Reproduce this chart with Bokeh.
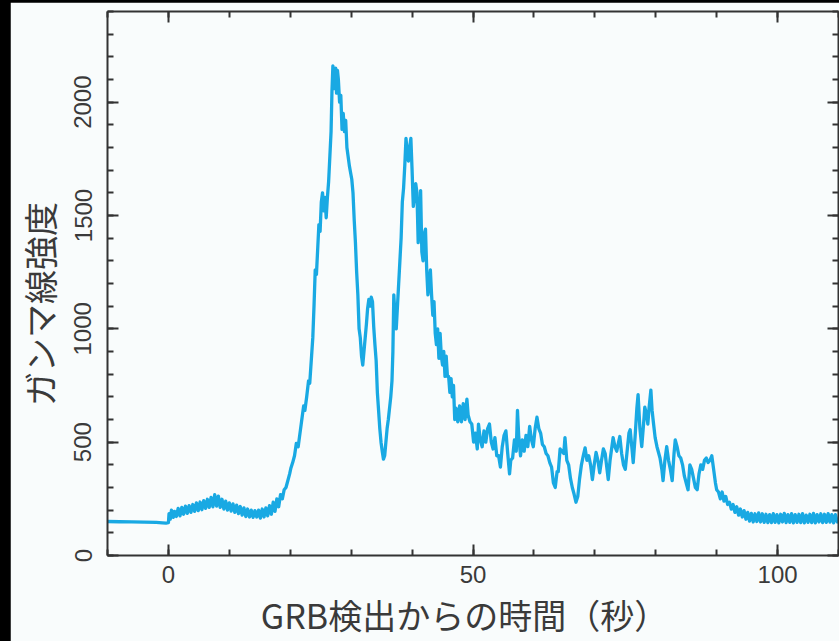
from bokeh.plotting import figure
from bokeh.models import LinearAxis, SingleIntervalTicker, Range1d, CustomJSTickFormatter
from bokeh.layouts import column
from bokeh.embed import file_html
from bokeh.resources import INLINE

# time since GRB trigger (s)
time_s = [
    -10.0, -8.0, -6.0, -4.0, -2.0, -1.0, -0.4, 0.0,
    0.1, 0.3, 0.5, 0.8, 1.0, 1.3, 1.6, 1.9, 2.2, 2.5, 2.8, 3.1, 3.4, 3.7, 4.0, 4.3, 4.6, 4.9,
    5.2, 5.5, 5.8, 6.1, 6.4, 6.7, 7.0, 7.3, 7.6, 7.9, 8.2, 8.5, 8.8, 9.1, 9.4, 9.7, 10.0,
    10.3, 10.6, 10.9, 11.2, 11.5, 11.8, 12.1, 12.4, 12.7, 13.0, 13.3, 13.6, 13.9, 14.2, 14.5,
    14.8, 15.1, 15.4, 15.7, 16.0, 16.3, 16.6, 16.9, 17.2, 17.5, 17.8, 18.1, 18.4, 18.7, 19.0,
    19.3, 19.6, 19.9, 20.1,
    20.4, 20.7, 21.0, 21.3, 21.6, 21.9, 22.2, 22.4, 22.7, 23.0, 23.2, 23.5, 23.7, 23.9, 24.1,
    24.3, 24.5, 24.7, 24.9, 25.1, 25.3, 25.5, 25.7, 25.9, 26.1, 26.3, 26.5, 26.7, 26.85, 27.0,
    27.15, 27.3, 27.45, 27.6, 27.75, 27.9, 28.1, 28.3, 28.5, 28.7, 28.9, 29.1, 29.3, 29.5,
    29.7, 29.9, 30.1, 30.3, 30.5, 30.7, 30.9, 31.1, 31.3, 31.5, 31.7, 31.9, 32.1, 32.3, 32.5,
    32.7, 32.9, 33.1, 33.3, 33.5, 33.7, 33.9, 34.1, 34.3, 34.5, 34.7, 34.9, 35.1, 35.3, 35.5,
    35.7, 35.9, 36.1, 36.3, 36.5, 36.7, 36.85, 37.0, 37.2, 37.4, 37.6, 37.8, 38.0, 38.2, 38.4,
    38.6, 38.8, 39.0, 39.2, 39.4, 39.6, 39.8, 40.0, 40.2, 40.4, 40.6, 40.8, 41.0, 41.2, 41.4,
    41.6, 41.8, 42.0, 42.2, 42.4, 42.6, 42.8, 43.0, 43.2, 43.4, 43.6, 43.8, 44.0, 44.2, 44.4,
    44.6, 44.8, 45.0, 45.2, 45.4, 45.6, 45.8, 46.0, 46.2, 46.4, 46.6, 46.8, 47.0, 47.2, 47.5,
    47.8, 48.1, 48.4, 48.7, 49.0, 49.2, 49.5, 49.8, 50.1, 50.4, 50.7, 50.9, 51.2, 51.5, 51.8,
    52.1, 52.4, 52.7, 53.0, 53.3, 53.6, 53.9, 54.2, 54.5, 54.8, 55.1, 55.4, 55.7, 56.0, 56.2,
    56.5, 56.8, 57.1, 57.3, 57.5, 57.8, 58.1, 58.4, 58.7, 59.0, 59.3, 59.6, 59.9, 60.2, 60.5,
    60.8, 61.1, 61.4, 61.7, 62.0, 62.3, 62.6, 62.9, 63.2, 63.5, 63.8, 64.0, 64.3, 64.6, 64.9,
    65.1, 65.4, 65.7, 66.0, 66.3, 66.6, 66.9, 67.2, 67.5, 67.8, 68.1, 68.4, 68.7, 69.0, 69.3,
    69.6, 69.9, 70.2, 70.5, 70.8, 71.1, 71.4, 71.7, 72.0, 72.2, 72.5, 72.8, 73.0, 73.3, 73.6,
    73.9, 74.1, 74.4, 74.7, 75.0, 75.3, 75.6, 75.8, 76.1, 76.3, 76.6, 76.9, 77.1, 77.4, 77.7,
    78.0, 78.2, 78.5, 78.7, 78.9, 79.2, 79.4, 79.6, 79.9, 80.2, 80.5, 80.7, 81.0, 81.2, 81.5,
    81.8, 82.1, 82.4, 82.7, 83.0, 83.2, 83.5, 83.8, 84.1, 84.4, 84.7, 85.0, 85.3, 85.6, 85.9,
    86.2, 86.5, 86.8, 87.1, 87.4, 87.7, 88.0, 88.3, 88.6, 88.9, 89.2, 89.4, 89.6, 89.8, 90.0,
    90.3, 90.6, 90.9, 91.2, 91.5, 91.8, 92.1, 92.4, 92.7, 93.0, 93.3, 93.6, 93.9, 94.2, 94.5,
    94.8, 95.1, 95.4, 95.7, 96.0, 96.3, 96.6, 96.9, 97.2, 97.5, 97.8, 98.1, 98.4, 98.7, 99.0,
    99.3, 99.6, 99.9, 100.2, 100.5, 100.8, 101.1, 101.4, 101.7, 102.0, 102.3, 102.6, 102.9,
    103.2, 103.5, 103.8, 104.1, 104.4, 104.7, 105.0, 105.3, 105.6, 105.9, 106.2, 106.5, 106.8,
    107.1, 107.4, 107.7, 108.0, 108.3, 108.6, 108.9, 109.2, 109.5, 109.8, 110.0,
]

# gamma-ray intensity (counts)
intensity = [
    150, 149, 148, 147, 146, 144, 143, 145,
    185, 160, 200, 168, 195, 172, 208, 175, 212, 182, 218, 186, 220, 190, 225, 195, 232, 198,
    236, 202, 242, 208, 248, 212, 256, 215, 268, 218, 262, 212, 248, 205, 240, 200, 232,
    196, 228, 190, 222, 185, 216, 178, 210, 172, 205, 170, 200, 168, 198, 170,
    200, 165, 205, 170, 210, 175, 220, 182, 235, 195, 250, 215, 268, 250, 290,
    300, 330, 360, 385,
    410, 440, 495, 480, 540, 600, 660, 640, 700, 770, 760, 880, 960, 1100, 1260,
    1240, 1350, 1460, 1430, 1560, 1600, 1520, 1580, 1490, 1580, 1650, 1760, 1870, 2050, 2160,
    2120, 2060, 2150, 2040, 2140, 2100, 2000, 2030, 1880, 1950, 1870, 1920, 1800, 1760,
    1720, 1690, 1660, 1600, 1480, 1380, 1250, 1150, 1000, 960, 880, 840, 900, 960, 1020,
    1090, 1130, 1100, 1140, 1120, 1010, 930, 860, 720, 640, 560, 500, 460, 425, 440,
    500, 560, 600, 650, 700, 770, 900, 1150, 1060, 1000, 1100, 1200, 1300, 1400, 1560,
    1620, 1720, 1840, 1780, 1740, 1800, 1840, 1700, 1540, 1580, 1640, 1600, 1380, 1450, 1610,
    1340, 1300, 1420, 1440, 1260, 1150, 1200, 1260, 1150, 1060, 1120, 980, 930, 1000, 870,
    980, 880, 840, 900, 790, 880, 790, 790, 720, 780, 700, 750, 600, 650, 590,
    660, 590, 670, 600, 690, 620, 590, 580, 500, 540, 470, 580, 510, 480, 550,
    500, 560, 580, 500, 470, 520, 440, 440, 390, 480, 530, 550, 450, 360, 420,
    430, 510, 460, 640, 530, 440, 510, 460, 530, 480, 570, 510, 480, 560, 610,
    560, 540, 490, 480, 450, 440, 410, 390, 320, 300, 370, 370, 470, 460, 450,
    520, 420, 400, 340, 300, 270, 235, 260, 340, 400, 440, 475, 420, 440, 400,
    335, 400, 455, 420, 365, 420, 470, 450, 380, 335, 420, 480, 520, 480, 460,
    500, 525, 450, 400, 380, 460, 540, 555, 470, 410, 520, 650, 710, 560, 480,
    580, 655, 620, 580, 650, 730, 640, 590, 520, 480, 450, 430, 380, 330, 420,
    480, 420, 380, 330, 450, 510, 480, 440, 430, 400, 350, 320, 290, 400, 380,
    340, 300, 290, 360, 400, 380, 420, 430, 410, 420, 440, 400, 360, 320, 290,
    280, 250, 280, 240, 260, 225, 235, 205, 225, 190, 215, 178, 205, 170, 198,
    160, 190, 152, 186, 148, 184, 150, 188, 148, 184, 146, 182, 145, 180, 145,
    185, 146, 180, 144, 182, 148, 186, 145, 180, 146, 185, 144, 180,
    146, 182, 145, 185, 144, 178, 146, 182, 145, 186, 144, 180, 148,
    184, 145, 182, 146, 185, 147, 180, 144, 180, 148, 165,
]

x_ticks_major = [0, 50, 100]
y_ticks_major = [0, 500, 1000, 1500, 2000]
x_title = "GRB検出からの時間（秒）"
y_title = "ガンマ線強度"

BG = "#f9fcfc"
AX = "#333333"
LINE = "#19a9e3"
TXT = "#3a3a3a"

p = figure(
    frame_width=731, frame_height=544,
    x_range=Range1d(-10, 110), y_range=Range1d(0, 2400),
    output_backend="svg", toolbar_location=None,
    background_fill_color=BG, border_fill_color=BG,
    outline_line_color=None,
    min_border_left=97, min_border_right=1, min_border_top=9, min_border_bottom=86,
    # trailing spaces nudge the centred titles to the reference position
    x_axis_label=x_title + "\u2002", y_axis_label=y_title + "\u3000\u2009",
)
p.margin = (2, 0, 0, 10)
p.grid.visible = False

p.line(time_s, intensity, line_color=LINE, line_width=3.3, line_join="round")

def style(ax, step, minors, show_labels):
    ax.ticker = SingleIntervalTicker(interval=step, num_minor_ticks=minors)
    ax.axis_line_color = AX
    ax.axis_line_width = 2
    ax.major_tick_line_color = AX
    ax.minor_tick_line_color = AX
    ax.major_tick_line_width = 2
    ax.minor_tick_line_width = 2
    ax.major_tick_in = 11
    ax.major_tick_out = 0
    ax.minor_tick_in = 6
    ax.minor_tick_out = 0
    ax.major_label_text_font = "Liberation Sans"
    ax.major_label_text_font_size = "24px"
    ax.major_label_text_color = TXT
    ax.axis_label_text_font = "Noto Sans CJK JP"
    ax.axis_label_text_font_size = "34px"
    ax.axis_label_text_font_style = "normal"
    ax.axis_label_text_color = TXT
    if not show_labels:
        ax.major_label_text_font_size = "0px"
        ax.major_label_standoff = 0
        ax.formatter = CustomJSTickFormatter(code="return ''")

xa = p.xaxis[0]
style(xa, 50, 5, True)
xa.major_label_standoff = 10
xa.axis_label_standoff = 4

ya = p.yaxis[0]
style(ya, 500, 5, True)
ya.major_label_orientation = "vertical"
ya.major_label_standoff = 16
ya.axis_label_standoff = 8

top = LinearAxis()
style(top, 50, 5, False)
p.add_layout(top, "above")
right = LinearAxis()
style(right, 500, 5, False)
p.add_layout(right, "right")

layout = column(p, styles={"background-color": "black"})

open("out.html", "w").write(file_html(layout, INLINE))
